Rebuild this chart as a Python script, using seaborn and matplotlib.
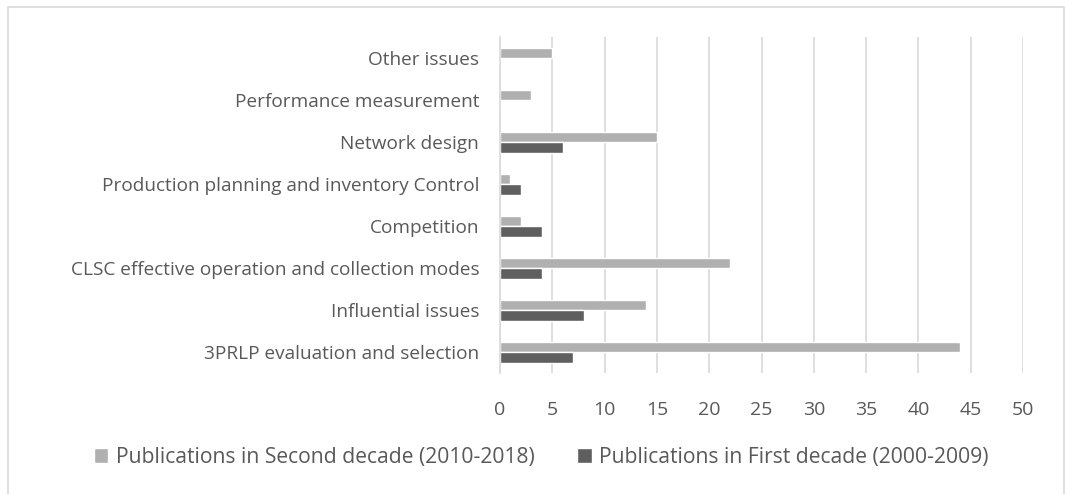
import matplotlib.pyplot as plt
import matplotlib.patches as mpatches
import pandas as pd
import seaborn as sns

categories = [
    "Other issues",
    "Performance measurement",
    "Network design",
    "Production planning and inventory Control",
    "Competition",
    "CLSC effective operation and collection modes",
    "Influential issues",
    "3PRLP evaluation and selection",
]
second_decade = [5, 3, 15, 1, 2, 22, 14, 44]
first_decade = [0, 0, 6, 2, 4, 4, 8, 7]
series_names = [
    "Publications in Second decade (2010-2018)",
    "Publications in First decade (2000-2009)",
]
x_ticks = list(range(0, 55, 5))

df = pd.DataFrame({
    "category": categories * 2,
    "value": second_decade + first_decade,
    "series": [series_names[0]] * len(categories) + [series_names[1]] * len(categories),
})

sns.set_style("white")
plt.rcParams["font.family"] = ["Open Sans", "DejaVu Sans"]
text_color = "#595959"

fig = plt.figure(figsize=(10.66, 4.94), dpi=100)
ax = fig.add_axes([500 / 1066, 1 - 373 / 494, 523 / 1066, 336 / 494])

sns.barplot(data=df, y="category", x="value", hue="series", order=categories,
            hue_order=series_names, palette=["#b0b0b0", "#5f5f5f"],
            width=0.5, gap=0, orient="h", ax=ax, legend=True)

ax.set_xlim(0, 50)
ax.set_xticks(x_ticks)
ax.xaxis.grid(True, color="#d9d9d9", linewidth=1.2)
ax.set_axisbelow(True)
for s in ["top", "right", "bottom"]:
    ax.spines[s].set_visible(False)
ax.spines["left"].set_color("#d9d9d9")
ax.spines["left"].set_linewidth(1.2)
ax.set_xlabel("")
ax.set_ylabel("")
ax.tick_params(axis="both", length=0, labelcolor=text_color)
ax.tick_params(axis="x", pad=20, labelsize=14)
ax.tick_params(axis="y", pad=15, labelsize=13.7)

handles, labels = ax.get_legend_handles_labels()
ax.legend_.remove()
fig.legend(handles, labels, loc="center", bbox_to_anchor=(541 / 1066, 1 - 457 / 494), ncol=2,
           frameon=False, fontsize=15.2, labelcolor=text_color, handlelength=0.7,
           handleheight=0.7, handletextpad=0.35, columnspacing=2.0)

fig.patches.append(mpatches.Rectangle((8 / 1066, -0.05), 1056 / 1066, 1.05 - 7 / 494,
                                      transform=fig.transFigure, fill=False,
                                      edgecolor="#d9d9d9", linewidth=1.2))

fig.savefig("out.png", dpi=100)
